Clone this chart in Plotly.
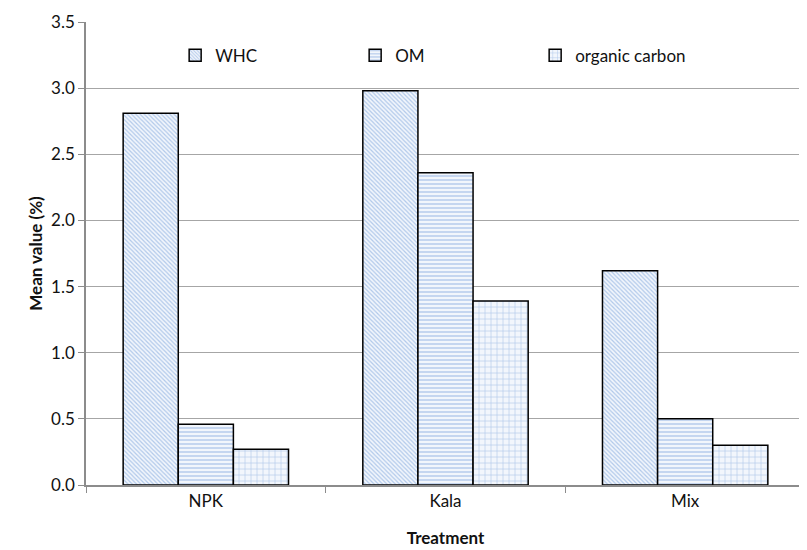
import plotly.graph_objects as go

categories = ["NPK", "Kala", "Mix"]
whc = [2.81, 2.98, 1.62]
om = [0.46, 2.36, 0.50]
organic_carbon = [0.27, 1.39, 0.30]

series = [
    ("WHC", whc, "\\", 3, 0.4),
    ("OM", om, "-", 4, 0.35),
    ("organic carbon", organic_carbon, "+", 6, 0.2),
]

fig = go.Figure()
for name, vals, shape, size, sol in series:
    fig.add_trace(go.Bar(
        x=categories, y=vals, name=name,
        marker=dict(
            color="#ffffff",
            line=dict(color="#000000", width=1.5),
            pattern=dict(shape=shape, fgcolor="#6f9bd8", bgcolor="#f2f6fc",
                         size=size, solidity=sol, fillmode="overlay"),
        ),
    ))

font = "Lato, 'Open Sans', sans-serif"
fig.update_layout(
    width=807, height=550,
    margin=dict(l=78, r=10, t=14, b=73),
    paper_bgcolor="white", plot_bgcolor="white",
    barmode="group", bargap=0.31, bargroupgap=0,
    font=dict(family=font, size=17, color="#111111"),
    legend=dict(orientation="h", x=0.124, y=0.927, xanchor="left", yanchor="middle",
                entrywidth=135, entrywidthmode="pixels", font=dict(size=17),
                itemwidth=30, bgcolor="rgba(0,0,0,0)"),
    showlegend=True,
)
fig.update_xaxes(
    title=dict(text="<b>Treatment</b>", font=dict(size=17), standoff=22),
    showline=True, linecolor="#8c8c8c", linewidth=1.5,
    ticks="outside", tickson="boundaries", ticklen=6, tickcolor="#8c8c8c",
    showgrid=False, automargin=False,
)
fig.update_yaxes(
    title=dict(text="<b>Mean value (%)</b>", font=dict(size=17), standoff=4),
    range=[0, 3.5], dtick=0.5, tickformat=".1f",
    showline=True, linecolor="#8c8c8c", linewidth=1.5,
    ticks="outside", ticklen=6, tickcolor="#8c8c8c",
    showgrid=True, gridcolor="#a6a6a6", gridwidth=1.2,
    zeroline=False, automargin=False,
)
fig.write_html("out.html")
